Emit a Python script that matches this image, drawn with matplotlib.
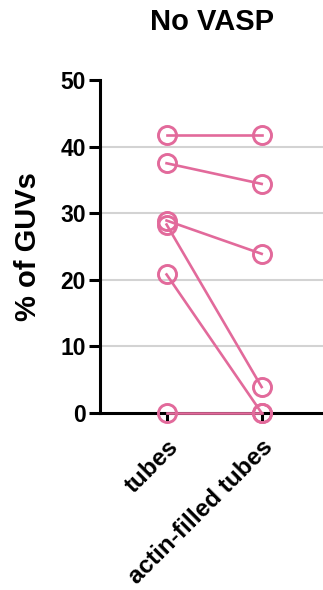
import matplotlib

matplotlib.use("Agg")
import matplotlib.pyplot as plt

plt.rcParams["font.family"] = ["Liberation Sans", "DejaVu Sans"]
plt.rcParams["font.weight"] = "bold"

categories = ["tubes", "actin-filled tubes"]
tubes = [41.7, 37.5, 28.9, 28.3, 20.8, 0.0]
actin_filled = [41.7, 34.4, 23.9, 3.9, 0.0, 0.0]
y_ticks = [0, 10, 20, 30, 40, 50]
grid_levels = [10, 20, 30, 40]

PINK = "#e26a9b"

fig = plt.figure(figsize=(3.23, 5.90), dpi=100)
ax = fig.add_axes([0.3096, 0.30, 0.6904, 0.5644])

for lvl in grid_levels:
    ax.axhline(lvl, color="#d3d3d3", linewidth=1.5, zorder=0)

for a, b in zip(tubes, actin_filled):
    ax.plot(
        [0, 1], [a, b],
        color=PINK, linewidth=1.9,
        marker="o", markersize=13, markerfacecolor="none",
        markeredgecolor=PINK, markeredgewidth=2.1,
        clip_on=False, zorder=3,
    )

ax.set_xlim(-0.70, 1.645)
ax.set_ylim(0, 50)
ax.set_yticks(y_ticks)
ax.set_xticks([0, 1])
ax.set_xticklabels(categories, rotation=45, ha="right", va="top",
                   rotation_mode="anchor", fontsize=17.5, fontweight="bold")
ax.tick_params(axis="y", labelsize=16.5, width=2.2, length=8, pad=2)
ax.tick_params(axis="x", width=2.2, length=6, pad=10)
for lab in ax.get_yticklabels():
    lab.set_fontweight("bold")

ax.spines[["top", "right"]].set_visible(False)
ax.spines["left"].set_linewidth(2.2)
ax.spines["bottom"].set_linewidth(2.2)

ax.set_ylabel("% of GUVs", fontsize=21, fontweight="bold")
ax.yaxis.set_label_coords(-0.26, 0.5)

fig.text(0.655, 0.962, "No VASP", ha="center", va="center",
         fontsize=21, fontweight="bold")

fig.savefig("out.png", dpi=100)
